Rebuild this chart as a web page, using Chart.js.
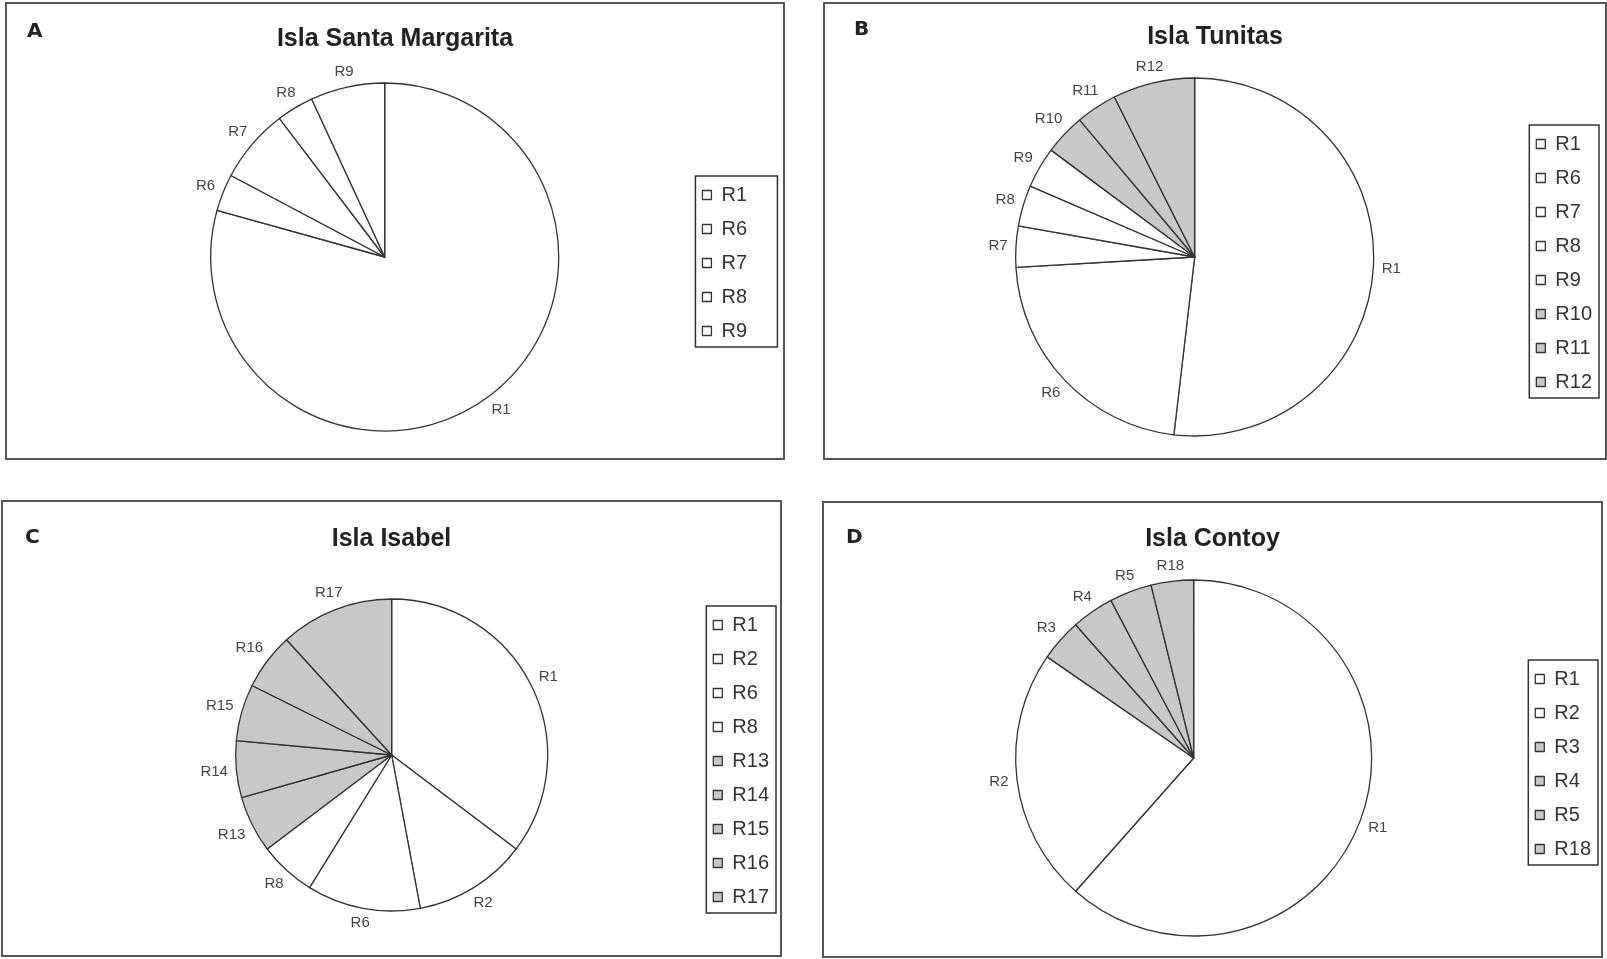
<!DOCTYPE html>
<html lang="es">
<head>
<meta charset="utf-8">
<title>Regiones por isla</title>
<script src="https://cdn.jsdelivr.net/npm/chart.js@4.4.1/dist/chart.umd.min.js"></script>
<style>
  html, body { margin: 0; padding: 0; background: #fff; }
  body { position: relative; width: 1607px; height: 959px; overflow: hidden;
         font-family: 'Liberation Sans', Arial, sans-serif; }
  .panel { position: absolute; box-sizing: border-box; border: 2px solid #555; background: #fff; }
  .plot { position: absolute; left: 0; top: 0; right: 0; bottom: 0; }
  .plot canvas { display: block; }
  .letter { position: absolute; font-family: 'DejaVu Sans', sans-serif; font-weight: bold;
            font-size: 20px; line-height: 22px; color: #222; }
  .title { position: absolute; left: 0; right: 0; text-align: center; font-weight: bold;
           font-size: 25px; line-height: 30px; color: #222; }
</style>
</head>
<body>

<div class="panel" style="left:5px; top:2px; width:780px; height:458px;">
  <div class="plot"><canvas id="chart-a"></canvas></div>
  <div class="letter" style="left:20px; top:15px;">A</div>
  <div class="title" style="top:18px;">Isla Santa Margarita</div>
</div>

<div class="panel" style="left:823px; top:2px; width:784px; height:458px;">
  <div class="plot"><canvas id="chart-b"></canvas></div>
  <div class="letter" style="left:29px; top:13px;">B</div>
  <div class="title" style="top:16px;">Isla Tunitas</div>
</div>

<div class="panel" style="left:1px; top:500px; width:781px; height:457px;">
  <div class="plot"><canvas id="chart-c"></canvas></div>
  <div class="letter" style="left:22px; top:23px;">C</div>
  <div class="title" style="top:20px;">Isla Isabel</div>
</div>

<div class="panel" style="left:822px; top:501px; width:781px; height:457px;">
  <div class="plot"><canvas id="chart-d"></canvas></div>
  <div class="letter" style="left:22px; top:22px;">D</div>
  <div class="title" style="top:19px;">Isla Contoy</div>
</div>

<script>
'use strict';

// regions drawn in grey in the original figure
const shadedRegions = ['R3', 'R4', 'R5', 'R10', 'R11', 'R12', 'R13', 'R14', 'R15', 'R16', 'R17', 'R18'];

// A - Isla Santa Margarita
const margaritaRegions = ['R1', 'R6', 'R7', 'R8', 'R9'];
const margaritaCounts = [23, 1, 2, 1, 2];

// B - Isla Tunitas
const tunitasRegions = ['R1', 'R6', 'R7', 'R8', 'R9', 'R10', 'R11', 'R12'];
const tunitasCounts = [14, 6, 1, 1, 1, 1, 1, 2];

// C - Isla Isabel
const isabelRegions = ['R1', 'R2', 'R6', 'R8', 'R13', 'R14', 'R15', 'R16', 'R17'];
const isabelCounts = [6, 2, 2, 1, 1, 1, 1, 1, 2];

// D - Isla Contoy
const contoyRegions = ['R1', 'R2', 'R3', 'R4', 'R5', 'R18'];
const contoyCounts = [16, 6, 1, 1, 1, 1];

const fontFamily = "'Liberation Sans', Arial, sans-serif";

// category names just outside each slice (like excel "outside end")
const outsideLabels = {
  id: 'outsideLabels',
  afterDatasetsDraw(chart) {
    const ctx = chart.ctx;
    const meta = chart.getDatasetMeta(0);
    ctx.save();
    ctx.font = '15px ' + fontFamily;
    ctx.fillStyle = '#444';
    ctx.textAlign = 'center';
    ctx.textBaseline = 'middle';
    meta.data.forEach((arc, i) => {
      const p = arc.getProps(['x', 'y', 'startAngle', 'endAngle', 'outerRadius'], true);
      const mid = (p.startAngle + p.endAngle) / 2;
      const cos = Math.cos(mid);
      const sin = Math.sin(mid);
      const text = chart.data.labels[i];
      const w = ctx.measureText(text).width;
      const d = p.outerRadius + 8 + Math.abs(cos) * w / 2 + Math.abs(sin) * 5.5;
      ctx.fillText(text, p.x + cos * d, p.y + sin * d);
    });
    ctx.restore();
  }
};

// frame round the legend items
const legendFrame = {
  id: 'legendFrame',
  afterDraw(chart, args, opts) {
    const boxes = chart.legend && chart.legend.legendHitBoxes;
    if (!boxes || !boxes.length) return;
    let left = Infinity, right = -Infinity, top = Infinity, bottom = -Infinity;
    boxes.forEach(b => {
      left = Math.min(left, b.left);
      right = Math.max(right, b.left + b.width);
      top = Math.min(top, b.top);
      bottom = Math.max(bottom, b.top + b.height);
    });
    left -= 7;
    right = Math.max(right + 7, left + (opts.minWidth || 0));
    top -= 9;
    bottom += 6;
    const ctx = chart.ctx;
    ctx.save();
    ctx.strokeStyle = '#333';
    ctx.lineWidth = 1.5;
    ctx.strokeRect(left, top, right - left, bottom - top);
    ctx.restore();
  }
};

function pieChart(id, regions, counts, radius, padding, frameWidth) {
  const ctx = document.getElementById(id).getContext('2d');
  return new Chart(ctx, {
    type: 'pie',
    data: {
      labels: regions,
      datasets: [{
        data: counts,
        backgroundColor: regions.map(r => shadedRegions.includes(r) ? '#c8c8c8' : '#ffffff'),
        borderColor: '#333',
        borderWidth: 1.3,
        borderJoinStyle: 'round',
        hoverOffset: 0
      }]
    },
    options: {
      responsive: true,
      maintainAspectRatio: false,
      animation: false,
      events: [],
      radius: radius,
      layout: { padding: padding },
      plugins: {
        tooltip: { enabled: false },
        legend: {
          position: 'right',
          align: 'center',
          title: { display: true, text: '', font: { size: 10 }, padding: 0 },
          labels: {
            boxWidth: 9,
            boxHeight: 9,
            padding: 14,
            color: '#333',
            font: { family: fontFamily, size: 20 }
          }
        },
        legendFrame: { minWidth: frameWidth }
      }
    },
    plugins: [outsideLabels, legendFrame]
  });
}

pieChart('chart-a', margaritaRegions, margaritaCounts, 174, { left: 74, right: 26, top: 60, bottom: 8 }, 82);
pieChart('chart-b', tunitasRegions, tunitasCounts, 179, { left: 42, right: 3, top: 60, bottom: 8 }, 0);
pieChart('chart-c', isabelRegions, isabelCounts, 156, { left: 81, right: 1, top: 60, bottom: 7 }, 0);
pieChart('chart-d', contoyRegions, contoyCounts, 178, { left: 42, right: 0, top: 62, bottom: 5 }, 0);
</script>
</body>
</html>
